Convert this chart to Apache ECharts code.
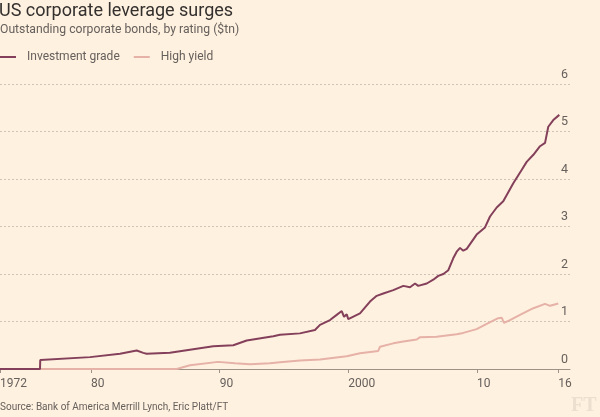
<!DOCTYPE html>
<html>
<head>
<meta charset="utf-8">
<script src="https://cdn.jsdelivr.net/npm/echarts@6/dist/echarts.min.js"></script>
<style>
html,body{margin:0;padding:0;background:#FFF1E0;}
#chart{width:600px;height:417px;}
</style>
</head>
<body>
<div id="chart"></div>
<script>
// Investment grade ($tn), by decimal year
const igYears = [1972.92, 1976.03, 1976.05, 1979.92, 1982.25, 1983.55, 1984.06, 1984.32, 1986.13, 1989.50, 1991.06, 1992.10, 1994.17, 1994.69, 1996.24, 1996.38, 1997.41, 1997.80, 1998.58, 1999.10, 1999.49, 1999.67, 1999.88, 2000.00, 2000.91, 2001.69, 2002.21, 2002.72, 2003.50, 2004.28, 2004.80, 2005.19, 2005.44, 2006.10, 2006.61, 2007.00, 2007.39, 2007.78, 2008.16, 2008.43, 2008.69, 2008.94, 2009.21, 2009.98, 2010.63, 2011.02, 2011.54, 2012.05, 2012.83, 2013.48, 2013.87, 2014.39, 2014.91, 2015.30, 2015.55, 2015.94, 2016.41];
const igValues = [0, 0, 0.19, 0.25, 0.32, 0.39, 0.34, 0.32, 0.34, 0.48, 0.50, 0.60, 0.69, 0.72, 0.75, 0.72, 0.82, 0.93, 1.03, 1.14, 1.22, 1.10, 1.15, 1.05, 1.17, 1.42, 1.54, 1.59, 1.66, 1.75, 1.72, 1.80, 1.75, 1.80, 1.88, 1.96, 2.00, 2.08, 2.33, 2.47, 2.55, 2.49, 2.53, 2.83, 2.98, 3.21, 3.40, 3.53, 3.91, 4.19, 4.36, 4.51, 4.69, 4.76, 5.10, 5.24, 5.35];

// High yield ($tn)
const hyYears = [1976.05, 1986.66, 1986.68, 1987.69, 1989.87, 1991.19, 1992.36, 1993.91, 1994.69, 1996.24, 1997.80, 1999.88, 2000.91, 2002.33, 2002.47, 2003.50, 2004.28, 2005.32, 2005.58, 2006.87, 2008.43, 2008.94, 2009.98, 2010.76, 2011.66, 2011.93, 2012.11, 2012.57, 2013.35, 2014.39, 2015.30, 2015.69, 2016.33];
const hyValues = [0, 0, 0.04, 0.08, 0.15, 0.12, 0.10, 0.12, 0.14, 0.18, 0.20, 0.27, 0.33, 0.38, 0.47, 0.54, 0.58, 0.62, 0.67, 0.68, 0.73, 0.76, 0.84, 0.95, 1.07, 1.08, 0.97, 1.03, 1.14, 1.28, 1.37, 1.33, 1.38];

const xTickValues = [1972.92, 1980, 1990, 2000, 2010, 2016.33];
const xTickLabels = ['1972', '80', '90', '2000', '10', '16'];

const seriesNames = ['Investment grade', 'High yield'];
const titleText = 'US corporate leverage surges';
const subtitleText = 'Outstanding corporate bonds, by rating ($tn)';
const sourceText = 'Source: Bank of America Merrill Lynch, Eric Platt/FT';

const FONT = 'Roboto, "Noto Sans", sans-serif';
const chart = echarts.init(document.getElementById('chart'), null, {renderer: 'canvas'});

const pair = (xs, ys) => xs.map((x, i) => [x, ys[i]]);

chart.setOption({
  backgroundColor: '#FFF1E0',
  animation: false,
  title: [
    {text: titleText, left: -1, top: 2, padding: 0,
     textStyle: {fontFamily: FONT, fontSize: 18, fontWeight: 'normal', color: '#33302e'}},
    {text: subtitleText, left: 0, top: 24, padding: 0,
     textStyle: {fontFamily: FONT, fontSize: 12.2, fontWeight: 'normal', color: '#66605c'}},
    {text: sourceText, left: 0, top: 402, padding: 0,
     textStyle: {fontFamily: FONT, fontSize: 10, fontWeight: 'normal', color: '#66605c'}}
  ],
  legend: {
    left: 0, top: 51, padding: 0, itemGap: 14,
    itemWidth: 16, itemHeight: 2, icon: 'rect',
    textStyle: {fontFamily: FONT, fontSize: 12, color: '#66605c', padding: [0, 0, 0, 6]},
    data: seriesNames
  },
  graphic: [
    {type: 'text', left: 571, top: 396,
     style: {text: 'FT', font: 'bold 20px "Liberation Serif", "DejaVu Serif", serif', fill: '#ecdfcf'}}
  ],
  grid: {left: 0, right: 30, top: 84, bottom: 48, containLabel: false, outerBoundsMode: 'none'},
  xAxis: {
    type: 'value', min: 1972.92, max: 2017.24,
    axisLine: {show: true, lineStyle: {color: '#9e9288', width: 1}},
    axisTick: {show: true, length: 4, lineStyle: {color: '#9e9288'}, customValues: xTickValues},
    axisLabel: {
      customValues: xTickValues, align: 'left', margin: 9,
      fontFamily: FONT, fontSize: 12, color: '#66605c',
      formatter: v => { const i = xTickValues.findIndex(t => Math.abs(t - v) < 0.01); return i >= 0 ? xTickLabels[i] : ''; }
    },
    splitLine: {show: false}
  },
  yAxis: {
    type: 'value', position: 'right', min: 0, max: 6, interval: 1,
    axisLine: {show: false}, axisTick: {show: false},
    axisLabel: {inside: true, margin: 2, verticalAlign: 'bottom', padding: [0, 0, 3, 0],
      fontFamily: FONT, fontSize: 12.5, color: '#66605c'},
    splitLine: {show: true, lineStyle: {color: '#cfc4b8', type: [2, 2], width: 1}}
  },
  series: [
    {name: seriesNames[1], type: 'line', data: pair(hyYears, hyValues), showSymbol: false,
     lineStyle: {color: '#e6b1a6', width: 2}, itemStyle: {color: '#e6b1a6'}, z: 2},
    {name: seriesNames[0], type: 'line', data: pair(igYears, igValues), showSymbol: false,
     lineStyle: {color: '#84405a', width: 2}, itemStyle: {color: '#84405a'}, z: 3}
  ]
});
</script>
</body>
</html>
